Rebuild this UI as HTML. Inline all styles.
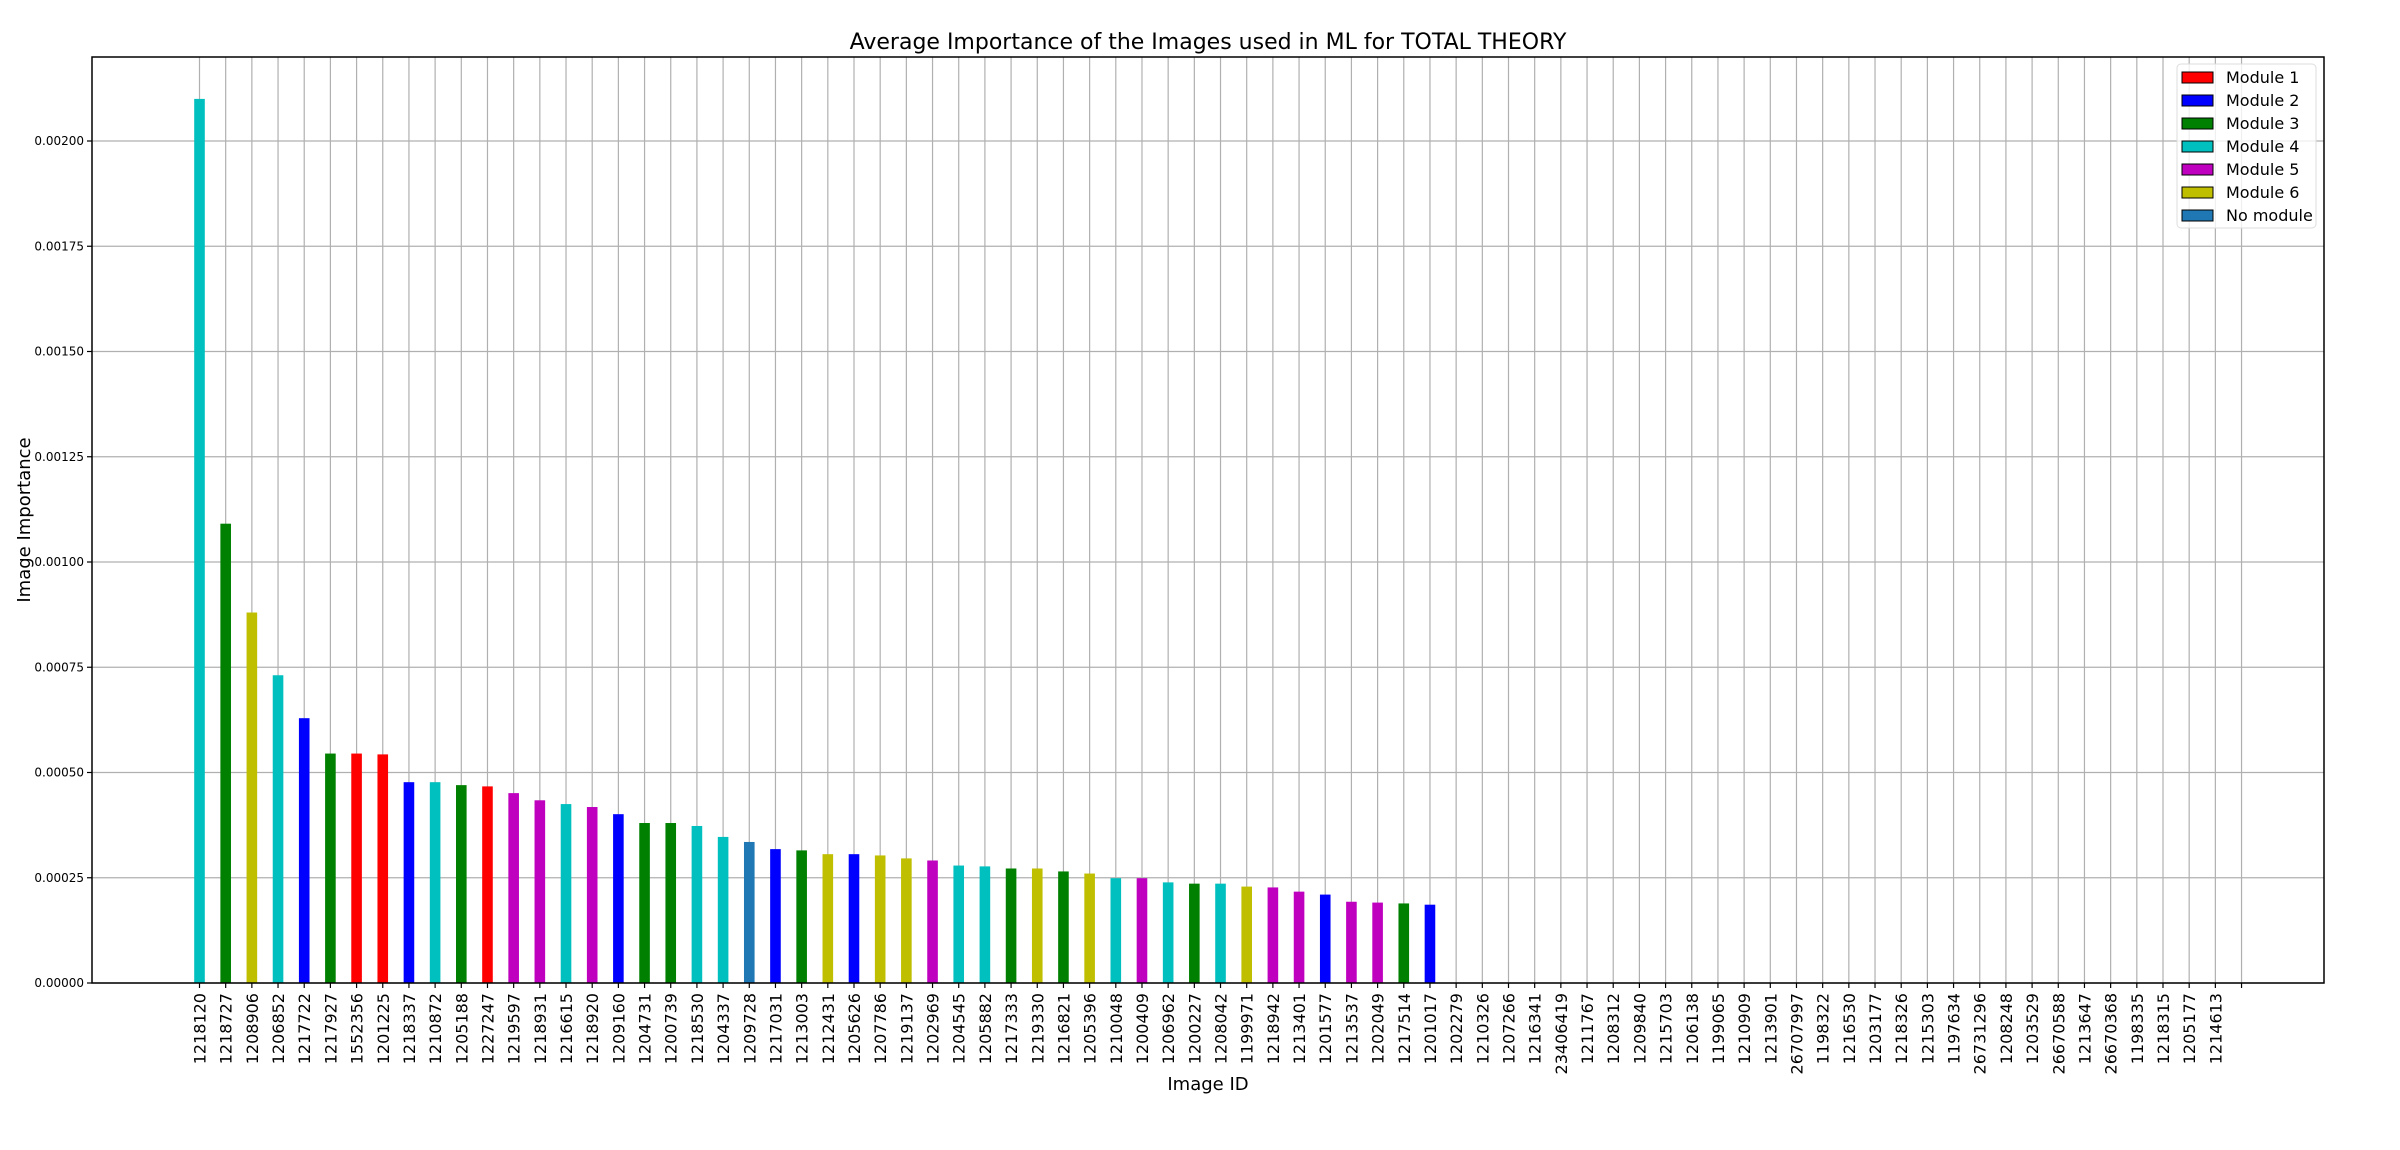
<!DOCTYPE html>
<html><head><meta charset="utf-8"><style>
html,body{margin:0;padding:0;background:#fff;}
svg{display:block;font-family:"DejaVu Sans","Liberation Sans",sans-serif;}
</style></head><body>
<svg id="chart" width="2400" height="1150" viewBox="0 0 2400 1150" xmlns="http://www.w3.org/2000/svg">
<text x="1208" y="49" font-size="22" text-anchor="middle">Average Importance of the Images used in ML for TOTAL THEORY</text>
<g id="grid"></g><g id="bars"></g><g id="axes"></g>
<text x="1208" y="1090" font-size="18" text-anchor="middle">Image ID</text>
<text transform="translate(30,520) rotate(-90)" font-size="18" text-anchor="middle">Image Importance</text>
<g id="legend"></g>
</svg>
<script>
const categories=["1218120","1218727","1208906","1206852","1217722","1217927","1552356","1201225","1218337","1210872","1205188","1227247","1219597","1218931","1216615","1218920","1209160","1204731","1200739","1218530","1204337","1209728","1217031","1213003","1212431","1205626","1207786","1219137","1202969","1204545","1205882","1217333","1219330","1216821","1205396","1210048","1200409","1206962","1200227","1208042","1199971","1218942","1213401","1201577","1213537","1202049","1217514","1201017","1202279","1210326","1207266","1216341","23406419","1211767","1208312","1209840","1215703","1206138","1199065","1210909","1213901","26707997","1198322","1216530","1203177","1218326","1215303","1197634","26731296","1208248","1203529","26670588","1213647","26670368","1198335","1218315","1205177","1214613",""];
const values=[0.0021,0.001091,0.00088,0.000731,0.000629,0.000545,0.000545,0.000543,0.000477,0.000477,0.00047,0.000467,0.000451,0.000434,0.000425,0.000418,0.000401,0.00038,0.00038,0.000373,0.000347,0.000335,0.000318,0.000315,0.000306,0.000306,0.000303,0.000296,0.000291,0.000279,0.000277,0.000272,0.000272,0.000265,0.00026,0.000249,0.000249,0.000239,0.000236,0.000236,0.000229,0.000227,0.000217,0.00021,0.000193,0.000191,0.000189,0.000186,0,0,0,0,0,0,0,0,0,0,0,0,0,0,0,0,0,0,0,0,0,0,0,0,0,0,0,0,0,0,0];
const modules=[4,3,6,4,2,3,1,1,2,4,3,1,5,5,4,5,2,3,3,4,4,0,2,3,6,2,6,6,5,4,4,3,6,3,6,4,5,4,3,4,6,5,5,2,5,5,3,2];
const yTicks=[0,0.00025,0.0005,0.00075,0.001,0.00125,0.0015,0.00175,0.002];
const yTickLabels=["0.00000","0.00025","0.00050","0.00075","0.00100","0.00125","0.00150","0.00175","0.00200"];
const legendLabels=["Module 1","Module 2","Module 3","Module 4","Module 5","Module 6","No module"];
const colors={1:"#ff0000",2:"#0000ff",3:"#008000",4:"#00bfbf",5:"#bf00bf",6:"#bfbf00",0:"#1f77b4"};
const L=92,R=2324,T=57,B=983;
const y=v=>B-v/0.00025*105.25;
const x=i=>199.5+i*26.18;
const NS="http://www.w3.org/2000/svg";
function mk(tag,attrs,parent){const e=document.createElementNS(NS,tag);for(const k in attrs)e.setAttribute(k,attrs[k]);parent.appendChild(e);return e;}
const grid=document.getElementById('grid'),bars=document.getElementById('bars'),axes=document.getElementById('axes'),leg=document.getElementById('legend');
yTicks.forEach((t,i)=>{
 const g=mk('line',{x1:L,x2:R,y1:y(t),y2:y(t),stroke:'#b0b0b0','stroke-width':1.2},grid);
 
 
 mk('line',{x1:L-5,x2:L,y1:y(t),y2:y(t),stroke:'#000','stroke-width':1.2},axes);
 const tx=mk('text',{x:L-8,y:y(t)+4,'font-size':12,'text-anchor':'end'},axes);
 tx.textContent=yTickLabels[i];
 
 
});
categories.forEach((c,i)=>{
 const g=mk('line',{x1:x(i),x2:x(i),y1:T,y2:B,stroke:'#b0b0b0','stroke-width':1.2},grid);
 
 
 mk('line',{x1:x(i),x2:x(i),y1:B,y2:B+5,stroke:'#000','stroke-width':1.2},axes);
 const tx=mk('text',{transform:`translate(${x(i)+6},${B+10}) rotate(-90)`,'font-size':16,'text-anchor':'end'},axes);
 tx.textContent=c;
 
 
 const v=values[i];
 if(v>0){
  const r=mk('rect',{x:x(i)-5.3,y:y(v),width:10.6,height:B-y(v),fill:colors[modules[i]]},bars);
  
  
 }
});
const frame=mk('rect',{x:L,y:T,width:R-L,height:B-T,fill:'none',stroke:'#000','stroke-width':1.5},axes);


const lb=mk('rect',{x:2177,y:64,width:139,height:164,rx:4,fill:'#fff','fill-opacity':0.8,stroke:'#ddd'},leg);


const lcols=[1,2,3,4,5,6,0];
legendLabels.forEach((l,i)=>{
 const yy=72+i*23;
 const p=mk('rect',{x:2182,y:yy,width:31,height:11,fill:colors[lcols[i]],stroke:'#000','stroke-width':1},leg);
 
 
 const t=mk('text',{x:2226,y:yy+11,'font-size':16},leg);
 t.textContent=l;
 
 
});
</script>
</body></html>
